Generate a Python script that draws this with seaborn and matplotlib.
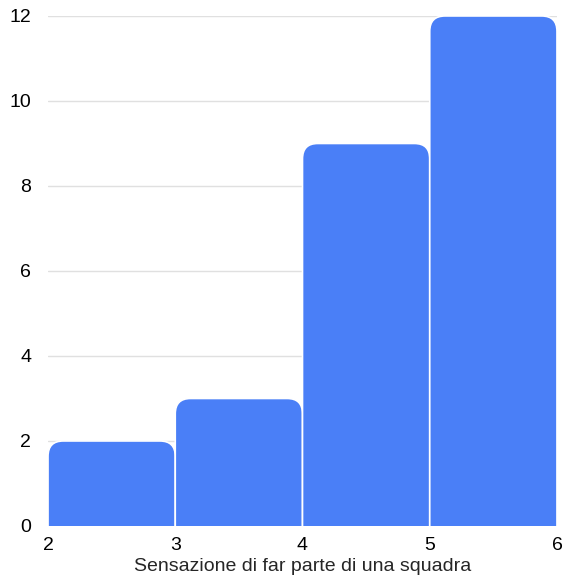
import matplotlib
matplotlib.use("Agg")
import matplotlib.pyplot as plt
import seaborn as sns
import pandas as pd
from matplotlib.patches import FancyBboxPatch

# Data
bin_edges = [2, 3, 4, 5, 6]
counts = [2, 3, 9, 12]
bin_centers = [2.5, 3.5, 4.5, 5.5]
x_ticks = [2, 3, 4, 5, 6]
y_ticks = [0, 2, 4, 6, 8, 10, 12]
xlabel = "Sensazione di far parte di una squadra"

df = pd.DataFrame({"value": bin_centers, "count": counts})

sns.set_style("white")
plt.rcParams['font.family'] = ['Liberation Sans', 'DejaVu Sans']

fig = plt.figure(figsize=(5.63, 5.83), dpi=100)
ax = fig.add_axes([0.0853, 0.0978, 0.9040, 0.8748])

color = "#4a7ff7"
sns.histplot(data=df, x="value", weights="count", bins=bin_edges, ax=ax,
             color=color, alpha=1, edgecolor="white", linewidth=1)

ax.set_xlim(2, 6)
ax.set_ylim(0, 12)

# Replace bars with rounded-top versions
rx = 0.12
ry = 0.36
patches = list(ax.patches)
for p in patches:
    x, y = p.get_x(), p.get_y()
    w, h = p.get_width(), p.get_height()
    p.remove()
    fb = FancyBboxPatch((x, y - ry), w, h + ry,
                        boxstyle=f"round,pad=0,rounding_size={rx}",
                        mutation_aspect=ry / rx,
                        facecolor=color, edgecolor="white", linewidth=1.2,
                        zorder=2, clip_on=True)
    ax.add_patch(fb)

ax.set_xticks(x_ticks)
ax.set_yticks(y_ticks)
ax.yaxis.grid(True, color="#e0e0e0", linewidth=1)
ax.set_axisbelow(True)
for s in ax.spines.values():
    s.set_visible(False)
ax.tick_params(axis="both", length=0, labelsize=14, colors="black")
ax.tick_params(axis="y", pad=12)
ax.tick_params(axis="x", pad=8)
ax.set_xlabel(xlabel, fontsize=14, labelpad=3)
ax.set_ylabel("")

fig.savefig("out.png", dpi=100)
